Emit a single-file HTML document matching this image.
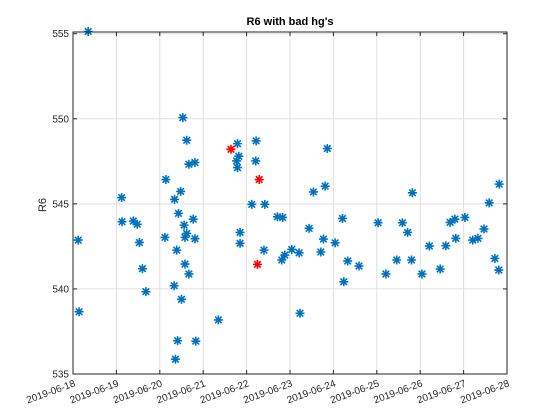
<!DOCTYPE html>
<html><head><meta charset="utf-8"><style>
body{margin:0;background:#fff;}
svg{display:block;font-family:"Liberation Sans",sans-serif;}
</style></head><body>
<svg id="chart" width="560" height="420" viewBox="0 0 560 420">
<rect width="560" height="420" fill="#fff"/>
<g id="grid"></g><g id="marks"></g><g id="axes"></g>
</svg>
<script>
const xTickLabels=["2019-06-18","2019-06-19","2019-06-20","2019-06-21","2019-06-22","2019-06-23","2019-06-24","2019-06-25","2019-06-26","2019-06-27","2019-06-28"];
const yTicks=[535,540,545,550,555];
const goodDays=[0.12,0.14,0.35,1.12,1.13,1.39,1.48,1.53,1.6,1.68,2.14,2.12,2.34,2.48,2.43,2.39,2.33,2.5,2.41,2.36,2.53,2.62,2.67,2.81,2.56,2.62,2.58,2.77,2.81,2.58,2.67,2.83,3.35,3.79,3.82,3.77,3.79,3.85,3.85,4.22,4.21,4.12,4.42,4.4,4.71,4.83,4.81,4.88,5.04,5.21,5.23,5.44,5.54,5.81,5.86,5.77,5.71,6.04,6.21,6.33,6.24,6.59,7.03,7.21,7.46,7.59,7.71,7.82,7.8,8.04,8.21,8.46,8.59,8.69,8.8,8.82,9.03,9.21,9.33,9.47,9.59,9.82,9.72,9.81];
const goodVals=[542.87,538.66,555.13,545.37,543.95,543.99,543.8,542.73,541.19,539.84,546.43,543.03,545.26,545.73,544.44,542.28,540.19,539.39,536.96,535.87,550.07,548.74,547.33,547.43,543.75,543.26,543.03,544.1,542.95,541.46,540.88,536.93,538.18,548.54,547.8,547.52,547.13,543.32,542.68,548.7,547.52,544.97,544.97,542.28,544.24,544.2,541.7,541.99,542.32,542.12,538.57,543.56,545.7,546.04,548.25,542.93,542.17,542.71,544.14,541.64,540.42,541.35,543.89,540.88,541.7,543.89,543.32,545.65,541.7,540.88,542.52,541.17,542.54,543.91,544.1,542.97,544.2,542.87,542.97,543.52,545.06,546.16,541.79,541.11];
const badDays=[3.64,4.29,4.25];
const badVals=[548.21,546.43,541.44];

const L=73,R=507,T=32,B=374;
const yMin=535,yMax=555.1;
const xs=d=>L+(R-L)*d/10;
const ys=v=>B-(B-T)*(v-yMin)/(yMax-yMin);
const NS="http://www.w3.org/2000/svg";
function mk(tag,at,parent){const e=document.createElementNS(NS,tag);for(const k in at)e.setAttribute(k,at[k]);parent.appendChild(e);return e;}
const grid=document.getElementById('grid'),marks=document.getElementById('marks'),axes=document.getElementById('axes');

mk('rect',{x:L,y:T,width:R-L,height:B-T,fill:'#fff'},grid);
xTickLabels.forEach((t,i)=>{
  const x=xs(i);
  if(i>0&&i<10){const g=mk('line',{x1:x,x2:x,y1:T,y2:B,stroke:'#dfdfdf','stroke-width':1},grid);
  
  }
  mk('line',{x1:x,x2:x,y1:B,y2:B-4,stroke:'#262626'},axes);
  mk('line',{x1:x,x2:x,y1:T,y2:T+4,stroke:'#262626'},axes);
  const tx=mk('text',{x:x+3,y:B+12,'font-size':10,fill:'#262626','text-anchor':'end',transform:`rotate(-20 ${x+3} ${B+12})`},axes);
  tx.textContent=t;
  
  
});
yTicks.forEach(v=>{
  const y=ys(v);
  if(v>yMin){const g=mk('line',{x1:L,x2:R,y1:y,y2:y,stroke:'#dfdfdf'},grid);
  
  }
  mk('line',{x1:L,x2:L+4,y1:y,y2:y,stroke:'#262626'},axes);
  mk('line',{x1:R,x2:R-4,y1:y,y2:y,stroke:'#262626'},axes);
  const tx=mk('text',{x:L-4,y:y+3.5,'font-size':10,fill:'#262626','text-anchor':'end'},axes);
  tx.textContent=v;
  
  
});
const box=mk('rect',{x:L,y:T,width:R-L,height:B-T,fill:'none',stroke:'#262626','stroke-width':1},axes);


const title=mk('text',{x:290,y:25,'font-size':11,'font-weight':'bold','text-anchor':'middle',fill:'#000'},axes);
title.textContent="R6 with bad hg's";


const yl=mk('text',{x:46,y:205,'font-size':11,'text-anchor':'middle',fill:'#262626',transform:'rotate(-90 46 205)'},axes);
yl.textContent="R6";



function star(d,v,color,name){
  const x=xs(d),y=ys(v),s=4.5,s2=3.3;
  const p=mk('path',{d:`M${x-s} ${y}H${x+s}M${x} ${y-s}V${y+s}M${x-s2} ${y-s2}L${x+s2} ${y+s2}M${x-s2} ${y+s2}L${x+s2} ${y-s2}`,stroke:color,'stroke-width':1.6,fill:'none'},marks);
  
  
}
goodDays.forEach((d,i)=>star(d,goodVals[i],'#0072BD','data-point'));
badDays.forEach((d,i)=>star(d,badVals[i],'#FF0000','bad-point'));
</script>
</body></html>
